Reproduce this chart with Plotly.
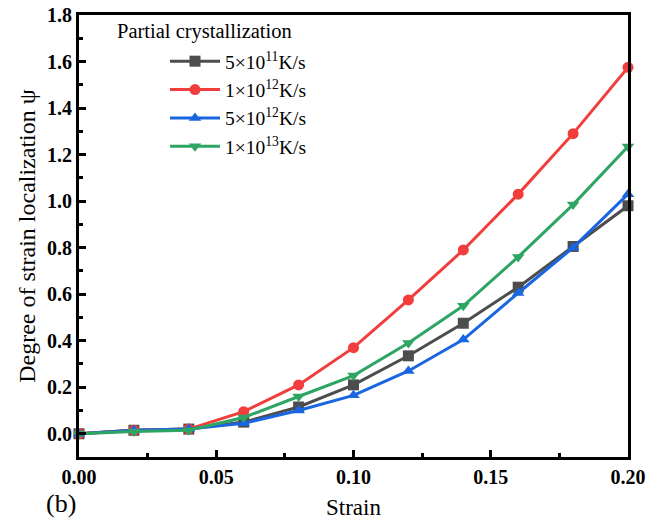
import plotly.graph_objects as go

strain = [0.00, 0.02, 0.04, 0.06, 0.08, 0.10, 0.12, 0.14, 0.16, 0.18, 0.20]
psi_5e11 = [0.0, 0.015, 0.02, 0.05, 0.115, 0.21, 0.335, 0.475, 0.63, 0.805, 0.98]
psi_1e12 = [0.0, 0.015, 0.02, 0.095, 0.21, 0.37, 0.575, 0.79, 1.03, 1.29, 1.575]
psi_5e12 = [0.0, 0.015, 0.02, 0.045, 0.10, 0.165, 0.27, 0.405, 0.605, 0.80, 1.03]
psi_1e13 = [0.0, 0.01, 0.015, 0.07, 0.16, 0.25, 0.39, 0.55, 0.76, 0.985, 1.235]

labels = ["5×10<sup>11</sup>K/s", "1×10<sup>12</sup>K/s", "5×10<sup>12</sup>K/s", "1×10<sup>13</sup>K/s"]
colors = ["#4d4d4d", "#f23d3d", "#1a66e0", "#2ea563"]
symbols = ["square", "circle", "triangle-up", "triangle-down"]
series = [psi_5e11, psi_1e12, psi_5e12, psi_1e13]

x_ticks = [0, 0.05, 0.10, 0.15, 0.20]
y_ticks = [0, 0.2, 0.4, 0.6, 0.8, 1.0, 1.2, 1.4, 1.6, 1.8]

fig = go.Figure()
for name, col, sym, ys in zip(labels, colors, symbols, series):
    fig.add_trace(go.Scatter(
        x=strain, y=ys, name=name, mode="lines+markers",
        line=dict(color=col, width=3),
        marker=dict(symbol=sym, size=11, color=col),
        cliponaxis=False,
    ))

serif = "Liberation Serif"
tick_font = dict(family=serif, size=20, color="black")
fig.update_layout(
    width=659, height=521,
    margin=dict(l=79, r=31, t=15, b=64, autoexpand=False),
    paper_bgcolor="white", plot_bgcolor="white",
    font=dict(family=serif, color="black"),
    showlegend=True,
    legend=dict(
        font=dict(family=serif, size=19.5, color="black"),
        x=(165 - 79) / 549, y=(457 - 42) / 442, xanchor="left", yanchor="top",
        bgcolor="rgba(0,0,0,0)", tracegroupgap=0, itemwidth=50,
    ),
    xaxis=dict(
        range=[0, 0.2], tickvals=x_ticks, automargin=False,
        ticktext=["<b>%.2f</b>" % v for v in x_ticks],
        ticks="inside", ticklen=7, tickwidth=2.5, tickcolor="black",
        minor=dict(dtick=0.025, ticks="inside", ticklen=4, tickwidth=2.5, tickcolor="black", showgrid=False),
        showline=True, linecolor="black", linewidth=3, mirror=True,
        showgrid=False, zeroline=False, tickfont=tick_font,
        title=dict(text="Strain", font=dict(family=serif, size=23), standoff=12),
    ),
    yaxis=dict(
        range=[-0.1, 1.8], tickvals=y_ticks, automargin=False,
        ticktext=["<b>%.1f</b>" % v for v in y_ticks],
        ticks="inside", ticklen=7, tickwidth=2.5, tickcolor="black",
        minor=dict(dtick=0.1, ticks="inside", ticklen=4, tickwidth=2.5, tickcolor="black", showgrid=False),
        showline=True, linecolor="black", linewidth=3, mirror=True,
        showgrid=False, zeroline=False, tickfont=tick_font,
        title=dict(text="Degree of strain localization ψ", font=dict(family=serif, size=24), standoff=5),
    ),
    annotations=[
        dict(text="Partial crystallization", xref="paper", yref="paper",
             x=(115 - 79) / 549, y=(457 - 32) / 442, xanchor="left", yanchor="middle",
             showarrow=False, font=dict(family=serif, size=20.5, color="black")),
        dict(text="(b)", xref="paper", yref="paper",
             x=(44 - 79) / 549, y=(457 - 503) / 442, xanchor="left", yanchor="middle",
             showarrow=False, font=dict(family=serif, size=26, color="black")),
    ],
)

fig.write_html("out.html")
